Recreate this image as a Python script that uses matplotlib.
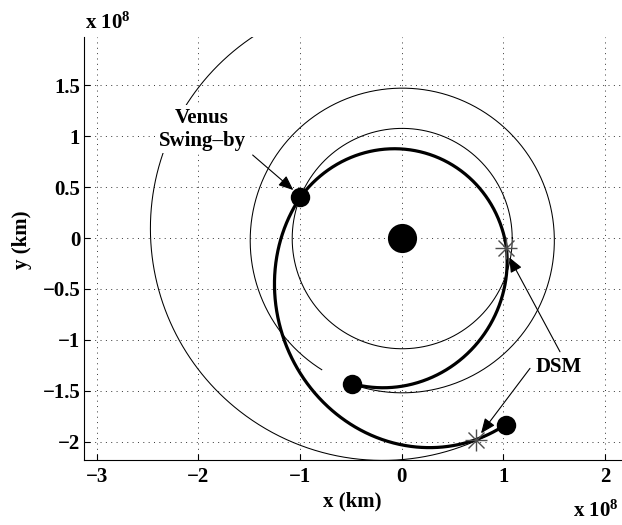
import numpy as np
import matplotlib
matplotlib.use("Agg")
import matplotlib.pyplot as plt

plt.rcParams['font.family'] = 'Liberation Serif'
plt.rcParams['font.weight'] = 'bold'
plt.rcParams['mathtext.fontset'] = 'custom'
plt.rcParams['mathtext.rm'] = 'Liberation Serif:bold'
plt.rcParams['mathtext.it'] = 'Liberation Serif:bold'
plt.rcParams['mathtext.bf'] = 'Liberation Serif:bold'

## planet orbits (units of 1e8 km): semi-major axis, eccentricity,
## longitude of perihelion, and arc swept during the mission (deg)
orb_a = [1.082, 1.496, 2.279]        # Venus, Earth, Mars
orb_e = [0.0068, 0.0167, 0.0934]
orb_w = [131.5, 102.9, 336.0]
orb_th0 = [0.0, 251.1, 110.0]
orb_th1 = [360.0, 598.7, 299.2]

## transfer legs: semi-latus rectum, eccentricity, perihelion direction, longitude range
leg_p = [1.142, 1.094, 1.342]        # Earth->DSM1, DSM1->Venus, Venus->DSM2->Mars
leg_e = [0.249, 0.264, 0.364]
leg_w = [60.0, 72.1, 111.2]
leg_th0 = [251.1, 354.5, 518.4]
leg_th1 = [354.5, 518.4, 659.2]

## bodies: launch, Venus swing-by, Mars arrival
body_x = [-0.49, -1.0, 1.026]
body_y = [-1.435, 0.398, -1.838]
## deep space manoeuvres
dsm_x = [1.03, 0.73]
dsm_y = [-0.10, -1.98]

xticks = [-3, -2, -1, 0, 1, 2]
yticks = [-2, -1.5, -1, -0.5, 0, 0.5, 1, 1.5]


def conic(p, e, w, th0, th1, n=600):
    th = np.radians(np.linspace(th0, th1, n))
    r = p/(1 + e*np.cos(th - np.radians(w)))
    return r*np.cos(th), r*np.sin(th)


def lab(v):
    return ("%g" % v).replace("-", "\u2212")


fig = plt.figure(figsize=(6.22, 5.25), dpi=100)
ax = fig.add_axes([84.3/622, 65/525, 536.7/622, 422.7/525])

# planet orbits
for a, e, w, t0, t1 in zip(orb_a, orb_e, orb_w, orb_th0, orb_th1):
    x, y = conic(a*(1 - e**2), e, w, t0, t1)
    ax.plot(x, y, color='k', lw=0.75, zorder=2)

# trajectory
for p, e, w, t0, t1 in zip(leg_p, leg_e, leg_w, leg_th0, leg_th1):
    x, y = conic(p, e, w, t0, t1)
    ax.plot(x, y, color='k', lw=2.3, zorder=3, solid_capstyle='round')

# sun and planets
ax.plot(0, 0, 'o', color='k', ms=21, mew=0, zorder=4)
ax.plot(body_x, body_y, 'o', color='k', ms=14, mew=0, ls='none', zorder=4)

# DSM markers
ax.plot(dsm_x, dsm_y, '+', color='0.3', ms=15.5, mew=1, ls='none', zorder=5)
ax.plot(dsm_x, dsm_y, 'x', color='0.3', ms=11.5, mew=1, ls='none', zorder=5)

# labels and arrows
ax.text(-1.964, 1.07, "Venus\nSwing\u2013by", ha='center', va='center', fontsize=15,
        linespacing=1.2, zorder=6, bbox=dict(fc='w', ec='none', pad=2))
ax.text(1.547, -1.264, "DSM", ha='center', va='center', fontsize=15, zorder=6)

arrow = dict(arrowstyle='-|>,head_length=0.6,head_width=0.25', color='k', lw=0.8,
             shrinkA=0, shrinkB=0, mutation_scale=15)
ax.annotate("", xy=(-1.066, 0.471), xytext=(-1.466, 0.815), arrowprops=arrow, zorder=6)
ax.annotate("", xy=(1.058, -0.19), xytext=(1.557, -1.117), arrowprops=arrow, zorder=6)
ax.annotate("", xy=(0.78, -1.918), xytext=(1.262, -1.28), arrowprops=arrow, zorder=6)

# axes
ax.set_xlim(-3.122, 2.157)
ax.set_ylim(-2.18, 1.971)
ax.set_xticks(xticks)
ax.set_yticks(yticks)
ax.set_xticklabels([lab(v) for v in xticks])
ax.set_yticklabels([lab(v) for v in yticks])
ax.tick_params(direction='in', length=4, width=0.8, labelsize=15)
ax.tick_params(axis='x', pad=5)
ax.tick_params(axis='y', pad=3)
ax.spines['top'].set_visible(False)
ax.spines['right'].set_visible(False)
for s in ['left', 'bottom']:
    ax.spines[s].set_linewidth(0.8)
ax.set_axisbelow(True)
ax.grid(True, linestyle=(0, (1, 4.5)), color='0.2', linewidth=0.7)

fig.text(352/622, 1 - 506/525, "x (km)", ha='center', va='baseline', fontsize=15)
fig.text(22/622, 1 - 240/525, "y (km)", ha='center', va='center', rotation=90, fontsize=15)
fig.text(85/622, 1 - 29/525, r"x 10$^{8}$", ha='left', va='baseline', fontsize=15)
fig.text(619/622, 1 - 517/525, r"x 10$^{8}$", ha='right', va='baseline', fontsize=15)

fig.savefig("out.png", dpi=100)
